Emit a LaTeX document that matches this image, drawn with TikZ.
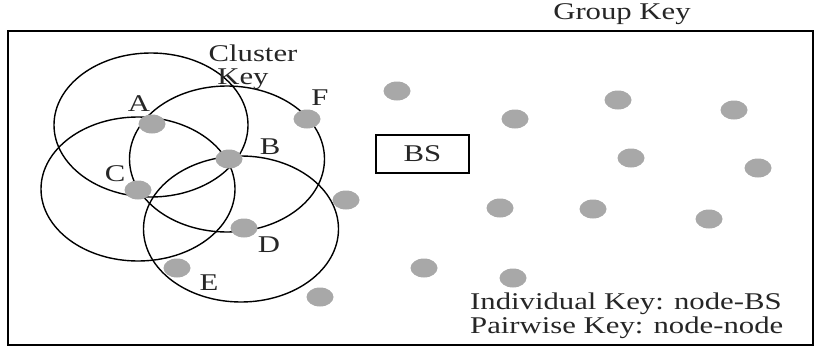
\documentclass[tikz,border=0pt]{standalone}
\usepackage{fontspec}
\setmainfont{Liberation Serif}[FakeStretch=1.28]
\begin{document}
\begin{tikzpicture}[x=1pt,y=-1pt,
  every node/.style={font=\fontsize{24}{27}\selectfont, inner sep=0pt},
  keyrange/.style={draw=black, line width=1.4pt},
  lbl/.style={text=black!85}]
\useasboundingbox (0,0) rectangle (815,351);

% network area
\draw[line width=1.6pt] (8,31) rectangle (813,345);
\node[lbl] (gk) at (622,14) {Group Key};

% cluster key ranges
\draw[keyrange] (151,125) ellipse [x radius=97, y radius=72];
\draw[keyrange] (138,189) ellipse [x radius=97, y radius=72];
\draw[keyrange] (227,159) ellipse [x radius=97.5, y radius=73];
\draw[keyrange] (241,229) ellipse [x radius=97.5, y radius=73];

% sensor nodes
\foreach \n/\p in {nA/{152,124}, nB/{229,159}, nC/{138,190}, nD/{244,228},
  nE/{177,268}, nF/{307,119}, n1/{346,200}, n2/{320,297}, n3/{397,91},
  n4/{515,119}, n5/{618,100}, n6/{734,110}, n7/{631,158}, n8/{758,168},
  n9/{500,208}, n10/{593,209}, n11/{709,219}, n12/{424,268}, n13/{513,278}}
  \fill[gray!80!white!85] (\p) ellipse [x radius=13.5, y radius=9.5];

% node labels
\node[lbl] (lA) at (139,104) {A};
\node[lbl] (lB) at (270,147) {B};
\node[lbl] (lC) at (115,174) {C};
\node[lbl] (lD) at (269,245) {D};
\node[lbl] (lE) at (209,283) {E};
\node[lbl] (lF) at (320,98) {F};
\node[lbl, align=center] (ck) at (253,67) {Cluster\\[-4pt]\hspace*{-20pt}Key};

% base station
\node[draw, line width=1.6pt, minimum width=93pt, minimum height=38pt] (bs) at (422.5,154) {};
\node[lbl] at (bs.center) {BS};

% legend
\node[lbl, anchor=west] (ik) at (470,304) {Individual Key: node-BS};
\node[lbl, anchor=west] (pk) at (470,328) {Pairwise Key: node-node};
\end{tikzpicture}
\end{document}
